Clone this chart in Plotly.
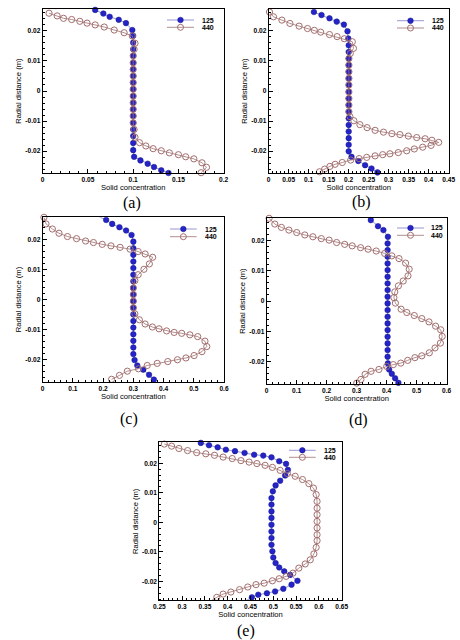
import plotly.graph_objects as go

# ---- data (solid concentration vs radial distance) ----
# panel (a)
a125_x = [0.058, 0.067, 0.074, 0.084, 0.092, 0.099, 0.100, 0.100, 0.100, 0.100,
          0.100, 0.100, 0.100, 0.100, 0.100, 0.100, 0.100, 0.100, 0.100, 0.100,
          0.100, 0.100, 0.100, 0.100, 0.101, 0.108, 0.116, 0.123, 0.131, 0.139]
a125_y = [0.0270, 0.0258, 0.0247, 0.0237, 0.0226, 0.0203, 0.0184, 0.0161, 0.0139, 0.0117,
          0.0094, 0.0072, 0.0050, 0.0028, 0.0006, -0.0017, -0.0039, -0.0061, -0.0083, -0.0106,
          -0.0128, -0.0150, -0.0173, -0.0197, -0.0219, -0.0231, -0.0242, -0.0253, -0.0264, -0.0273]
a440_x = [0.007, 0.016, 0.023, 0.032, 0.041, 0.049, 0.058, 0.068, 0.079, 0.090,
          0.099, 0.102, 0.101, 0.100, 0.100, 0.100, 0.100, 0.100, 0.100, 0.100,
          0.100, 0.100, 0.100, 0.100, 0.101, 0.102, 0.107, 0.114, 0.122, 0.131,
          0.140, 0.150, 0.158, 0.167, 0.176, 0.181, 0.175]
a440_y = [0.0259, 0.0250, 0.0242, 0.0238, 0.0232, 0.0226, 0.0220, 0.0213, 0.0203, 0.0194,
          0.0183, 0.0159, 0.0139, 0.0117, 0.0094, 0.0072, 0.0050, 0.0028, 0.0006, -0.0017,
          -0.0039, -0.0061, -0.0083, -0.0106, -0.0128, -0.0154, -0.0172, -0.0183, -0.0192, -0.0199,
          -0.0206, -0.0212, -0.0219, -0.0226, -0.0239, -0.0254, -0.0272]

# panel (b)
b125_x = [0.113, 0.132, 0.152, 0.170, 0.188, 0.197, 0.199, 0.200, 0.200, 0.200,
          0.200, 0.200, 0.200, 0.200, 0.200, 0.200, 0.200, 0.200, 0.200, 0.200,
          0.200, 0.200, 0.200, 0.200, 0.207, 0.224, 0.241, 0.257, 0.272]
b125_y = [0.0263, 0.0253, 0.0242, 0.0231, 0.0221, 0.0199, 0.0175, 0.0152, 0.0130, 0.0108,
          0.0086, 0.0064, 0.0042, 0.0020, -0.0003, -0.0025, -0.0047, -0.0069, -0.0091, -0.0113,
          -0.0135, -0.0157, -0.0179, -0.0201, -0.0219, -0.0233, -0.0247, -0.0258, -0.0271]
b440_x = [0.002, 0.012, 0.033, 0.053, 0.076, 0.097, 0.114, 0.130, 0.152, 0.171,
          0.189, 0.209, 0.212, 0.204, 0.2005, 0.2005, 0.2005, 0.2005, 0.2005, 0.2005,
          0.2005, 0.2005, 0.2005, 0.203, 0.213, 0.228, 0.246, 0.266, 0.287, 0.308,
          0.328, 0.349, 0.370, 0.391, 0.408, 0.425, 0.406, 0.385, 0.364, 0.345,
          0.324, 0.303, 0.285, 0.266, 0.245, 0.226, 0.205, 0.184, 0.166, 0.153,
          0.140, 0.127]
b440_y = [0.0263, 0.0247, 0.0236, 0.0225, 0.0216, 0.0208, 0.0202, 0.0196, 0.0188, 0.0181,
          0.0174, 0.0164, 0.0142, 0.0125, 0.0108, 0.0086, 0.0064, 0.0042, 0.0020, -0.0003,
          -0.0025, -0.0047, -0.0069, -0.0085, -0.0099, -0.0112, -0.0122, -0.0131, -0.0137, -0.0142,
          -0.0145, -0.0150, -0.0155, -0.0159, -0.0164, -0.0171, -0.0181, -0.0187, -0.0193, -0.0199,
          -0.0205, -0.0209, -0.0212, -0.0216, -0.0221, -0.0225, -0.0230, -0.0238, -0.0244, -0.0251,
          -0.0260, -0.0269]

# panel (c)
c125_x = [0.187, 0.210, 0.230, 0.254, 0.276, 0.294, 0.300, 0.300, 0.300, 0.300,
          0.300, 0.300, 0.300, 0.300, 0.300, 0.300, 0.300, 0.300, 0.300, 0.300,
          0.300, 0.300, 0.300, 0.300, 0.304, 0.313, 0.333, 0.352, 0.368]
c125_y = [0.0275, 0.0264, 0.0251, 0.0240, 0.0229, 0.0214, 0.0192, 0.0170, 0.0148, 0.0126,
          0.0104, 0.0082, 0.0060, 0.0038, 0.0016, -0.0006, -0.0028, -0.0050, -0.0072, -0.0094,
          -0.0116, -0.0138, -0.0160, -0.0182, -0.0202, -0.0220, -0.0234, -0.0251, -0.0267]
c440_x = [0.004, 0.011, 0.032, 0.054, 0.082, 0.112, 0.142, 0.168, 0.197, 0.226,
          0.256, 0.289, 0.316, 0.339, 0.364, 0.353, 0.335, 0.316, 0.305, 0.300,
          0.300, 0.300, 0.300, 0.305, 0.320, 0.339, 0.363, 0.385, 0.410, 0.435,
          0.460, 0.487, 0.513, 0.537, 0.543, 0.527, 0.501, 0.474, 0.446, 0.414,
          0.379, 0.346, 0.317, 0.280, 0.254, 0.228]
c440_y = [0.0273, 0.0251, 0.0234, 0.0220, 0.0209, 0.0202, 0.0194, 0.0189, 0.0183, 0.0178,
          0.0173, 0.0167, 0.0159, 0.0151, 0.0140, 0.0118, 0.0100, 0.0082, 0.0062, 0.0038,
          0.0016, -0.0006, -0.0028, -0.0048, -0.0068, -0.0082, -0.0092, -0.0098, -0.0105, -0.0110,
          -0.0113, -0.0118, -0.0124, -0.0139, -0.0157, -0.0174, -0.0187, -0.0195, -0.0201, -0.0207,
          -0.0213, -0.0220, -0.0231, -0.0239, -0.0253, -0.0266]

# panel (d)
d125_x = [0.347, 0.371, 0.389, 0.404, 0.403, 0.403, 0.403, 0.403, 0.403, 0.403,
          0.403, 0.403, 0.403, 0.403, 0.403, 0.403, 0.403, 0.403, 0.403, 0.403,
          0.403, 0.403, 0.404, 0.408, 0.417, 0.428, 0.439]
d125_y = [0.0267, 0.0247, 0.0234, 0.0212, 0.0190, 0.0168, 0.0146, 0.0124, 0.0102, 0.0080,
          0.0058, 0.0036, 0.0014, -0.0008, -0.0030, -0.0052, -0.0074, -0.0096, -0.0118, -0.0140,
          -0.0162, -0.0184, -0.0206, -0.0226, -0.0240, -0.0255, -0.0270]
d440_x = [0.008, 0.027, 0.049, 0.074, 0.100, 0.127, 0.154, 0.182, 0.208, 0.233,
          0.260, 0.285, 0.313, 0.338, 0.365, 0.393, 0.417, 0.441, 0.463, 0.475,
          0.471, 0.455, 0.439, 0.427, 0.424, 0.429, 0.448, 0.467, 0.492, 0.517,
          0.541, 0.563, 0.580, 0.585, 0.579, 0.561, 0.542, 0.517, 0.494, 0.470,
          0.447, 0.422, 0.400, 0.374, 0.348, 0.328, 0.314, 0.300]
d440_y = [0.0273, 0.0254, 0.0243, 0.0234, 0.0226, 0.0218, 0.0212, 0.0206, 0.0201, 0.0193,
          0.0187, 0.0182, 0.0176, 0.0171, 0.0165, 0.0157, 0.0149, 0.0140, 0.0125, 0.0105,
          0.0083, 0.0066, 0.0050, 0.0030, 0.0011, -0.0007, -0.0027, -0.0038, -0.0048, -0.0058,
          -0.0069, -0.0083, -0.0095, -0.0117, -0.0139, -0.0155, -0.0171, -0.0181, -0.0187, -0.0196,
          -0.0205, -0.0210, -0.0216, -0.0226, -0.0232, -0.0242, -0.0259, -0.0271]

# panel (e)
e125_x = [0.341, 0.359, 0.378, 0.396, 0.416, 0.437, 0.458, 0.478, 0.496, 0.513,
          0.528, 0.532, 0.526, 0.515, 0.505, 0.499, 0.496, 0.496, 0.496, 0.496,
          0.496, 0.496, 0.496, 0.496, 0.498, 0.500, 0.505, 0.513, 0.524, 0.537,
          0.553, 0.540, 0.522, 0.504, 0.486, 0.467, 0.453, 0.437]
e125_y = [0.0269, 0.0261, 0.0254, 0.0246, 0.0241, 0.0235, 0.0229, 0.0226, 0.0220, 0.0207,
          0.0198, 0.0178, 0.0159, 0.0141, 0.0125, 0.0105, 0.0082, 0.0060, 0.0037, 0.0015,
          -0.0008, -0.0031, -0.0053, -0.0076, -0.0098, -0.0119, -0.0138, -0.0153, -0.0166, -0.0178,
          -0.0198, -0.0211, -0.0225, -0.0234, -0.0240, -0.0245, -0.0254, -0.0268]
e440_x = [0.261, 0.277, 0.293, 0.312, 0.332, 0.352, 0.371, 0.390, 0.410, 0.429,
          0.447, 0.464, 0.482, 0.498, 0.515, 0.531, 0.548, 0.564, 0.578, 0.588,
          0.594, 0.596, 0.596, 0.596, 0.596, 0.596, 0.596, 0.596, 0.594, 0.589,
          0.581, 0.570, 0.556, 0.543, 0.528, 0.513, 0.498, 0.480, 0.462, 0.444,
          0.426, 0.407, 0.390, 0.376, 0.363]
e440_y = [0.0265, 0.0258, 0.0250, 0.0243, 0.0236, 0.0232, 0.0227, 0.0221, 0.0216, 0.0209,
          0.0204, 0.0199, 0.0193, 0.0186, 0.0176, 0.0165, 0.0156, 0.0145, 0.0131, 0.0116,
          0.0094, 0.0071, 0.0048, 0.0026, 0.0003, -0.0019, -0.0042, -0.0062, -0.0085, -0.0107,
          -0.0127, -0.0141, -0.0155, -0.0172, -0.0183, -0.0191, -0.0198, -0.0206, -0.0211, -0.0219,
          -0.0228, -0.0236, -0.0243, -0.0254, -0.0266]

series_names = ["125", "440"]
panel_labels = ["(a)", "(b)", "(c)", "(d)", "(e)"]

a_xticks = [0, 0.05, 0.1, 0.15, 0.2]
b_xticks = [0, 0.05, 0.1, 0.15, 0.2, 0.25, 0.3, 0.35, 0.4, 0.45]
c_xticks = [0, 0.1, 0.2, 0.3, 0.4, 0.5, 0.6]
e_xticks = [0.25, 0.3, 0.35, 0.4, 0.45, 0.5, 0.55, 0.6, 0.65]
y_ticks = [-0.02, -0.01, 0, 0.01, 0.02]
y_ticklabels = ["-0.02", "-0.01", "0", "0.01", "0.02"]

W, H = 460, 640
BLUE = "#2424c8"
BLUE_LINE = "#7c7cc8"
ROSE = "#a46e6e"
ROSE_LINE = "#a07272"
FONT = "Liberation Sans, Arial, sans-serif"

# plot boxes in pixels: left, right, top, bottom
panels = [
    dict(box=(42.7, 223.7, 9, 173.3), xr=[0, 0.2], yr=[-0.0274, 0.0273], xt=a_xticks, xminor=0.01,
         d125=(a125_x, a125_y), d440=(a440_x, a440_y), lab=(131.7, 203), leg=(167, 194, 200, 20, 27.3)),
    dict(box=(268.7, 448.7, 9, 173.3), xr=[0, 0.45], yr=[-0.0274, 0.0273], xt=b_xticks, xminor=0.01,
         d125=(b125_x, b125_y), d440=(b440_x, b440_y), lab=(361.7, 202), leg=(397, 424, 430, 20.7, 28)),
    dict(box=(42.7, 224, 217.3, 381.7), xr=[0, 0.6], yr=[-0.0274, 0.0273], xt=c_xticks, xminor=0.02,
         d125=(c125_x, c125_y), d440=(c440_x, c440_y), lab=(128.5, 419), leg=(170, 196.7, 202.7, 229, 236.7)),
    dict(box=(266.7, 446.7, 218.3, 384), xr=[0, 0.6], yr=[-0.0274, 0.0273], xt=c_xticks, xminor=0.02,
         d125=(d125_x, d125_y), d440=(d440_x, d440_y), lab=(358, 420), leg=(397, 424, 429.3, 228, 235.3)),
    dict(box=(159.3, 341.7, 442.3, 600.3), xr=[0.25, 0.65], yr=[-0.0264, 0.0271], xt=e_xticks, xminor=0.01,
         d125=(e125_x, e125_y), d440=(e440_x, e440_y), lab=(246.5, 631), leg=(289, 315.7, 321.7, 450.3, 457.3)),
]

fig = go.Figure()
shapes = []
annotations = []
layout = {}

for i, p in enumerate(panels):
    n = "" if i == 0 else str(i + 1)
    xa, ya = "x" + n, "y" + n
    l, r, t, b = p["box"]
    fig.add_trace(go.Scatter(
        x=p["d125"][0], y=p["d125"][1], xaxis=xa, yaxis=ya, mode="lines+markers",
        name=series_names[0], showlegend=False, cliponaxis=False,
        line=dict(color=BLUE_LINE, width=0.8),
        marker=dict(symbol="circle", size=5.6, color=BLUE, line=dict(color="#15158a", width=0.5))))
    fig.add_trace(go.Scatter(
        x=p["d440"][0], y=p["d440"][1], xaxis=xa, yaxis=ya, mode="lines+markers",
        name=series_names[1], showlegend=False, cliponaxis=False,
        line=dict(color=ROSE_LINE, width=0.8),
        marker=dict(symbol="circle-open", size=6.2, color=ROSE, line=dict(width=1))))

    axis_common = dict(showline=True, linecolor="black", linewidth=1, mirror=True,
                       showgrid=False, zeroline=False, ticks="inside", ticklen=4,
                       tickcolor="black", tickwidth=0.8, automargin=False,
                       tickfont=dict(family=FONT, size=6.6, color="black", weight="bold"))
    layout["xaxis" + n] = dict(
        axis_common, domain=[l / W, r / W], anchor=ya, range=p["xr"],
        tickmode="array", tickvals=p["xt"],
        minor=dict(dtick=p["xminor"], ticks="inside", ticklen=2, tickcolor="black", tickwidth=0.6),
        title=dict(text="Solid concentration", standoff=0,
                   font=dict(family=FONT, size=7.6, color="black")))
    layout["yaxis" + n] = dict(
        axis_common, domain=[1 - b / H, 1 - t / H], anchor=xa, range=p["yr"],
        tickmode="array", tickvals=y_ticks, ticktext=y_ticklabels,
        minor=dict(dtick=0.002, ticks="inside", ticklen=2, tickcolor="black", tickwidth=0.6),
        title=dict(text="Radial distance (m)", standoff=2,
                   font=dict(family=FONT, size=7.6, color="black")))

    # panel caption
    annotations.append(dict(text=panel_labels[i], x=p["lab"][0] / W, y=1 - p["lab"][1] / H,
                            xref="paper", yref="paper", xanchor="center", yanchor="middle",
                            showarrow=False,
                            font=dict(family="Liberation Serif, Times New Roman, serif", size=16, color="black")))

    # legend key drawn inside the frame
    x0, x1, xt, yr1, yr2 = p["leg"]
    for k, (yy, lc) in enumerate([(yr1, BLUE_LINE), (yr2, ROSE_LINE)]):
        yp = 1 - yy / H
        shapes.append(dict(type="line", xref="paper", yref="paper", x0=x0 / W, x1=x1 / W,
                           y0=yp, y1=yp, line=dict(color=lc, width=0.8)))
        cx = (x0 + x1) / 2 / W
        if k == 0:
            shapes.append(dict(type="circle", xref="paper", yref="paper", xsizemode="pixel",
                               ysizemode="pixel", xanchor=cx, yanchor=yp, x0=-2.8, x1=2.8, y0=-2.8, y1=2.8,
                               fillcolor=BLUE, line=dict(color="#15158a", width=0.5)))
        else:
            shapes.append(dict(type="circle", xref="paper", yref="paper", xsizemode="pixel",
                               ysizemode="pixel", xanchor=cx, yanchor=yp, x0=-3, x1=3, y0=-3, y1=3,
                               fillcolor="rgba(255,255,255,0)", line=dict(color=ROSE, width=1)))
        annotations.append(dict(text="<b>" + series_names[k] + "</b>", x=xt / W, y=yp,
                                xref="paper", yref="paper", xanchor="left", yanchor="middle",
                                showarrow=False, font=dict(family=FONT, size=7, color="black")))

fig.update_layout(
    width=W, height=H, autosize=False,
    margin=dict(l=0, r=0, t=0, b=0),
    paper_bgcolor="white", plot_bgcolor="white",
    showlegend=False, shapes=shapes, annotations=annotations,
    **layout,
)

# the page's default body margin would shift the whole figure by 8 px
fig.write_html("out.html", config={"displayModeBar": False},
               post_script="document.body.style.margin = '0';")
